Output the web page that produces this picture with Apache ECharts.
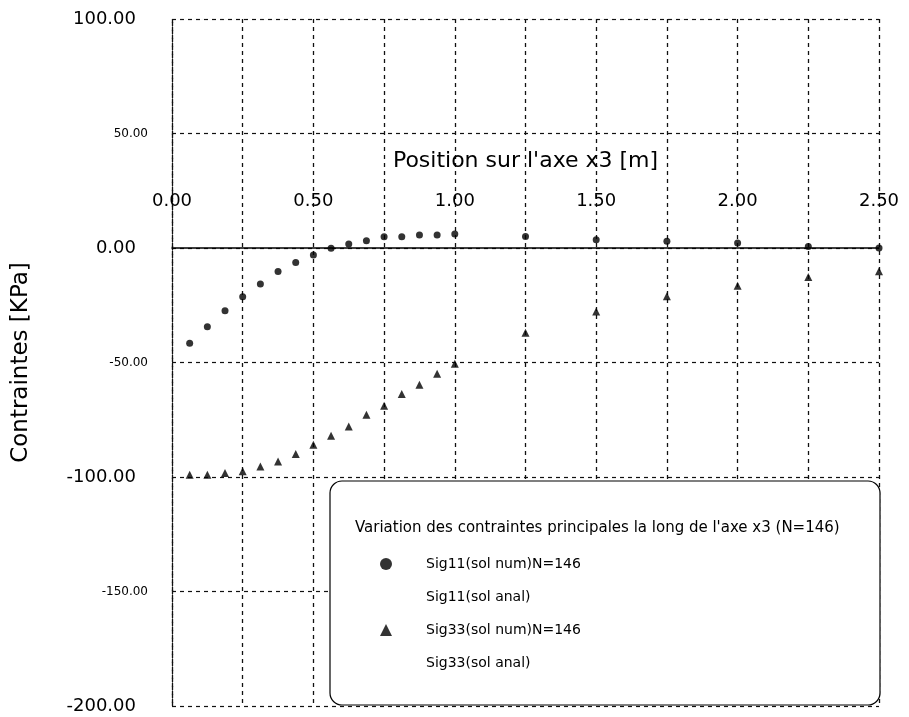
<!DOCTYPE html>
<html>
<head>
<meta charset="utf-8">
<script src="https://cdn.jsdelivr.net/npm/echarts@6/dist/echarts.min.js"></script>
<style>html,body{margin:0;padding:0;background:#fff}#c{width:909px;height:717px}</style>
</head>
<body>
<div id="c"></div>
<script>
// Positions along x3 [m]
const xPos = [0.0625,0.125,0.1875,0.25,0.3125,0.375,0.4375,0.5,0.5625,0.625,0.6875,0.75,0.8125,0.875,0.9375,1.0,1.25,1.5,1.75,2.0,2.25,2.5];
// Sig11 numerical solution [KPa]
const sig11 = [-41.6,-34.4,-27.4,-21.3,-15.7,-10.3,-6.3,-3.1,-0.1,1.7,3.2,4.9,4.9,5.7,5.7,6.1,5.0,3.6,2.9,2.2,0.7,0.0];
// Sig33 numerical solution [KPa]
const sig33 = [-99.0,-99.0,-98.3,-97.5,-95.4,-93.2,-90.0,-85.9,-82.0,-77.9,-72.8,-68.9,-63.8,-59.7,-54.9,-50.5,-37.0,-27.7,-21.1,-16.5,-12.7,-10.2];
// Tick labels
const xLabelTicks = [0, 0.5, 1.0, 1.5, 2.0, 2.5];
const yBigTicks = [100, 0, -100, -200];
const legendNames = ['Sig11(sol num)N=146','Sig11(sol anal)','Sig33(sol num)N=146','Sig33(sol anal)'];
const legendTitle = "Variation des contraintes principales la long de l'axe x3 (N=146)";

const chart = echarts.init(document.getElementById('c'));
const font = '"DejaVu Sans", sans-serif';
const pair = (xs, ys) => xs.map((x, i) => [x, ys[i]]);

const gridTop = 19, gridBottom = 11, H = 717;
const yMin = -200, yMax = 100;
// distance from top edge of plot to the zero line (for placing the labelled x axis)
const zeroOffset = (H - gridTop - gridBottom) * (yMax - 0) / (yMax - yMin);

chart.setOption({
  backgroundColor: '#fff',
  animation: false,
  textStyle: { fontFamily: font, color: '#000' },
  grid: { left: 172, right: 30, top: gridTop, bottom: gridBottom, containLabel: false, outerBoundsMode: 'none' },
  xAxis: [{
    type: 'value', min: 0, max: 2.5, interval: 0.25,
    position: 'top',
    axisLine: { onZero: true, lineStyle: { color: '#000', width: 1.5 } },
    axisTick: { show: false },
    axisLabel: { show: false },
    splitLine: { show: true, lineStyle: { color: '#111', type: [4, 4], width: 1.3 } }
  }, {
    type: 'value', min: 0, max: 2.5, interval: 0.5,
    position: 'top', offset: -zeroOffset,
    axisLine: { show: false, onZero: false },
    axisTick: { show: false },
    splitLine: { show: false },
    axisLabel: {
      margin: 38, fontSize: 18, color: '#000', fontFamily: font,
      formatter: v => xLabelTicks.some(t => Math.abs(t - v) < 1e-6) ? v.toFixed(2) : ''
    },
    name: "Position sur l'axe x3 [m]",
    nameLocation: 'middle', nameGap: 76,
    nameTextStyle: { fontSize: 22, color: '#000', fontFamily: font }
  }],
  yAxis: {
    type: 'value', min: yMin, max: yMax, interval: 50,
    axisLine: { show: true, onZero: false, lineStyle: { color: '#111', type: [4, 4], width: 1.3 } },
    axisTick: { show: false },
    axisLabel: {
      margin: 24, color: '#000',
      formatter: v => yBigTicks.includes(v) ? '{big|' + v.toFixed(2) + '}' : '{small|' + v.toFixed(2) + '}',
      rich: {
        big: { fontSize: 18, fontFamily: font, color: '#000', padding: [0, 12, 0, 0] },
        small: { fontSize: 12, fontFamily: font, color: '#000' }
      }
    },
    splitLine: { show: true, lineStyle: { color: '#111', type: [4, 4], width: 1.2 } },
    name: 'Contraintes [KPa]',
    nameLocation: 'middle', nameGap: 139,
    nameTextStyle: { fontSize: 23, color: '#000', fontFamily: font }
  },
  legend: {
    orient: 'vertical', left: 375, top: 552,
    itemWidth: 12, itemHeight: 12, itemGap: 19,
    textStyle: { fontSize: 14, fontFamily: font, color: '#000', padding: [0, 0, 0, 29] },
    data: [
      { name: legendNames[0], icon: 'circle' },
      { name: legendNames[1], icon: 'none' },
      { name: legendNames[2], icon: 'triangle' },
      { name: legendNames[3], icon: 'none' }
    ],
    z: 20
  },
  graphic: [
    { type: 'rect', z: 10, shape: { x: 330, y: 481, width: 550, height: 224, r: 12 },
      style: { fill: '#fff', stroke: '#000', lineWidth: 1.2 } },
    { type: 'text', z: 11, left: 355, top: 521,
      style: { text: legendTitle, font: '15px ' + font, fill: '#000' } }
  ],
  series: [
    { name: legendNames[0], type: 'scatter', symbol: 'circle', symbolSize: 7, xAxisIndex: 0,
      itemStyle: { color: '#000' }, data: pair(xPos, sig11), z: 5 },
    { name: legendNames[1], type: 'line', data: [], showSymbol: false, xAxisIndex: 0,
      lineStyle: { color: '#000', width: 1 }, itemStyle: { color: '#000' } },
    { name: legendNames[2], type: 'scatter', symbol: 'triangle', symbolSize: 8, xAxisIndex: 0,
      itemStyle: { color: '#000' }, data: pair(xPos, sig33), z: 5 },
    { name: legendNames[3], type: 'line', data: [], showSymbol: false, xAxisIndex: 0,
      lineStyle: { color: '#000', width: 1 }, itemStyle: { color: '#000' } }
  ]
});
</script>
</body>
</html>
